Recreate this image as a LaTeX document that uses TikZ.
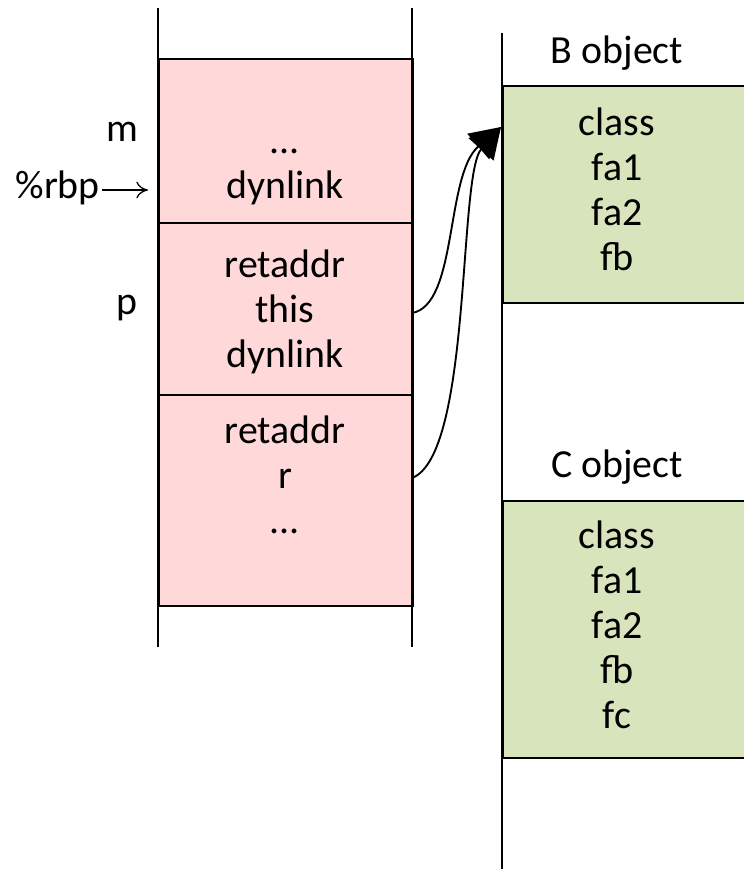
\documentclass[tikz,border=0pt]{standalone}
\usepackage{fontspec}
\setmainfont{Carlito}
\usetikzlibrary{arrows.meta,positioning}
\definecolor{framepink}{RGB}{255,217,217}
\definecolor{objgreen}{RGB}{216,228,188}

\begin{document}
\begin{tikzpicture}[
      x=0.03cm, y=-0.03cm,
      font=\fontsize{34}{38.4}\selectfont,
      frame/.style={rectangle, draw, line width=1.6pt, fill=framepink,
                    minimum width=7.62cm, inner sep=0pt, anchor=north west},
      obj/.style={rectangle, draw, line width=1.6pt, fill=objgreen,
                  minimum width=7.4cm, inner sep=0pt, anchor=north west},
      field/.style={align=center, inner sep=0pt},
      wall/.style={line width=1.6pt},
      ptr/.style={line width=1.6pt, -{Triangle[length=0.9cm, width=1cm]}},
    ]
    \useasboundingbox (0,0) rectangle (743,869);
    % stack frames
    \node[frame, minimum height=4.92cm] (mframe) at (158,58)  {};
    \node[frame, minimum height=5.16cm] (pframe) at (158,222) {};
    \node[frame, minimum height=6.33cm] (rframe) at (158,394) {};
    \draw[wall] (158,8) -- (158,647);
    \draw[wall] (412,8) -- (412,647);
    \node[field] (mtxt) at (285,177) {...\\dynlink};
    \node[field] (ptxt) at (285,312) {retaddr\\this\\dynlink};
    \node[field] (rtxt) at (285,475) {retaddr\\r\\...};
    \node[anchor=east] (mlab) at (142,132) {m};
    \node[anchor=east] (plab) at (142,308) {p};
    \node[anchor=east, inner sep=0pt] (rbp) at (100,188) {\%rbp};
    \coordinate (rbptip) at (148,190);
    \draw[line width=1.1pt, -{To[length=0.35cm, width=0.5cm]}] (rbp.east |- rbptip) ++(2,0) -- (rbptip);
    % heap objects
    \node[obj, minimum height=6.51cm] (bobj) at (502,85)  {};
    \node[obj, minimum height=7.71cm] (cobj) at (502,500) {};
    \draw[wall] (502,33) -- (502,869);
    \node (blab) at (617,53)  {B object};
    \node (clab) at (617,467) {C object};
    \node[field] (btxt) at (617,189) {class\\fa1\\fa2\\fb};
    \node[field] (ctxt) at (617,625) {class\\fa1\\fa2\\fb\\fc};
    % pointers
    \coordinate (thisptr) at (412,313);
    \coordinate (rptr)    at (412,478);
    \coordinate (btip)    at (501,127);
    \draw[ptr] (thisptr) .. controls (458,305) and (445,175) .. (btip);
    \draw[ptr] (rptr) .. controls (472,455) and (458,175) .. (btip);
  \end{tikzpicture}
\end{document}
